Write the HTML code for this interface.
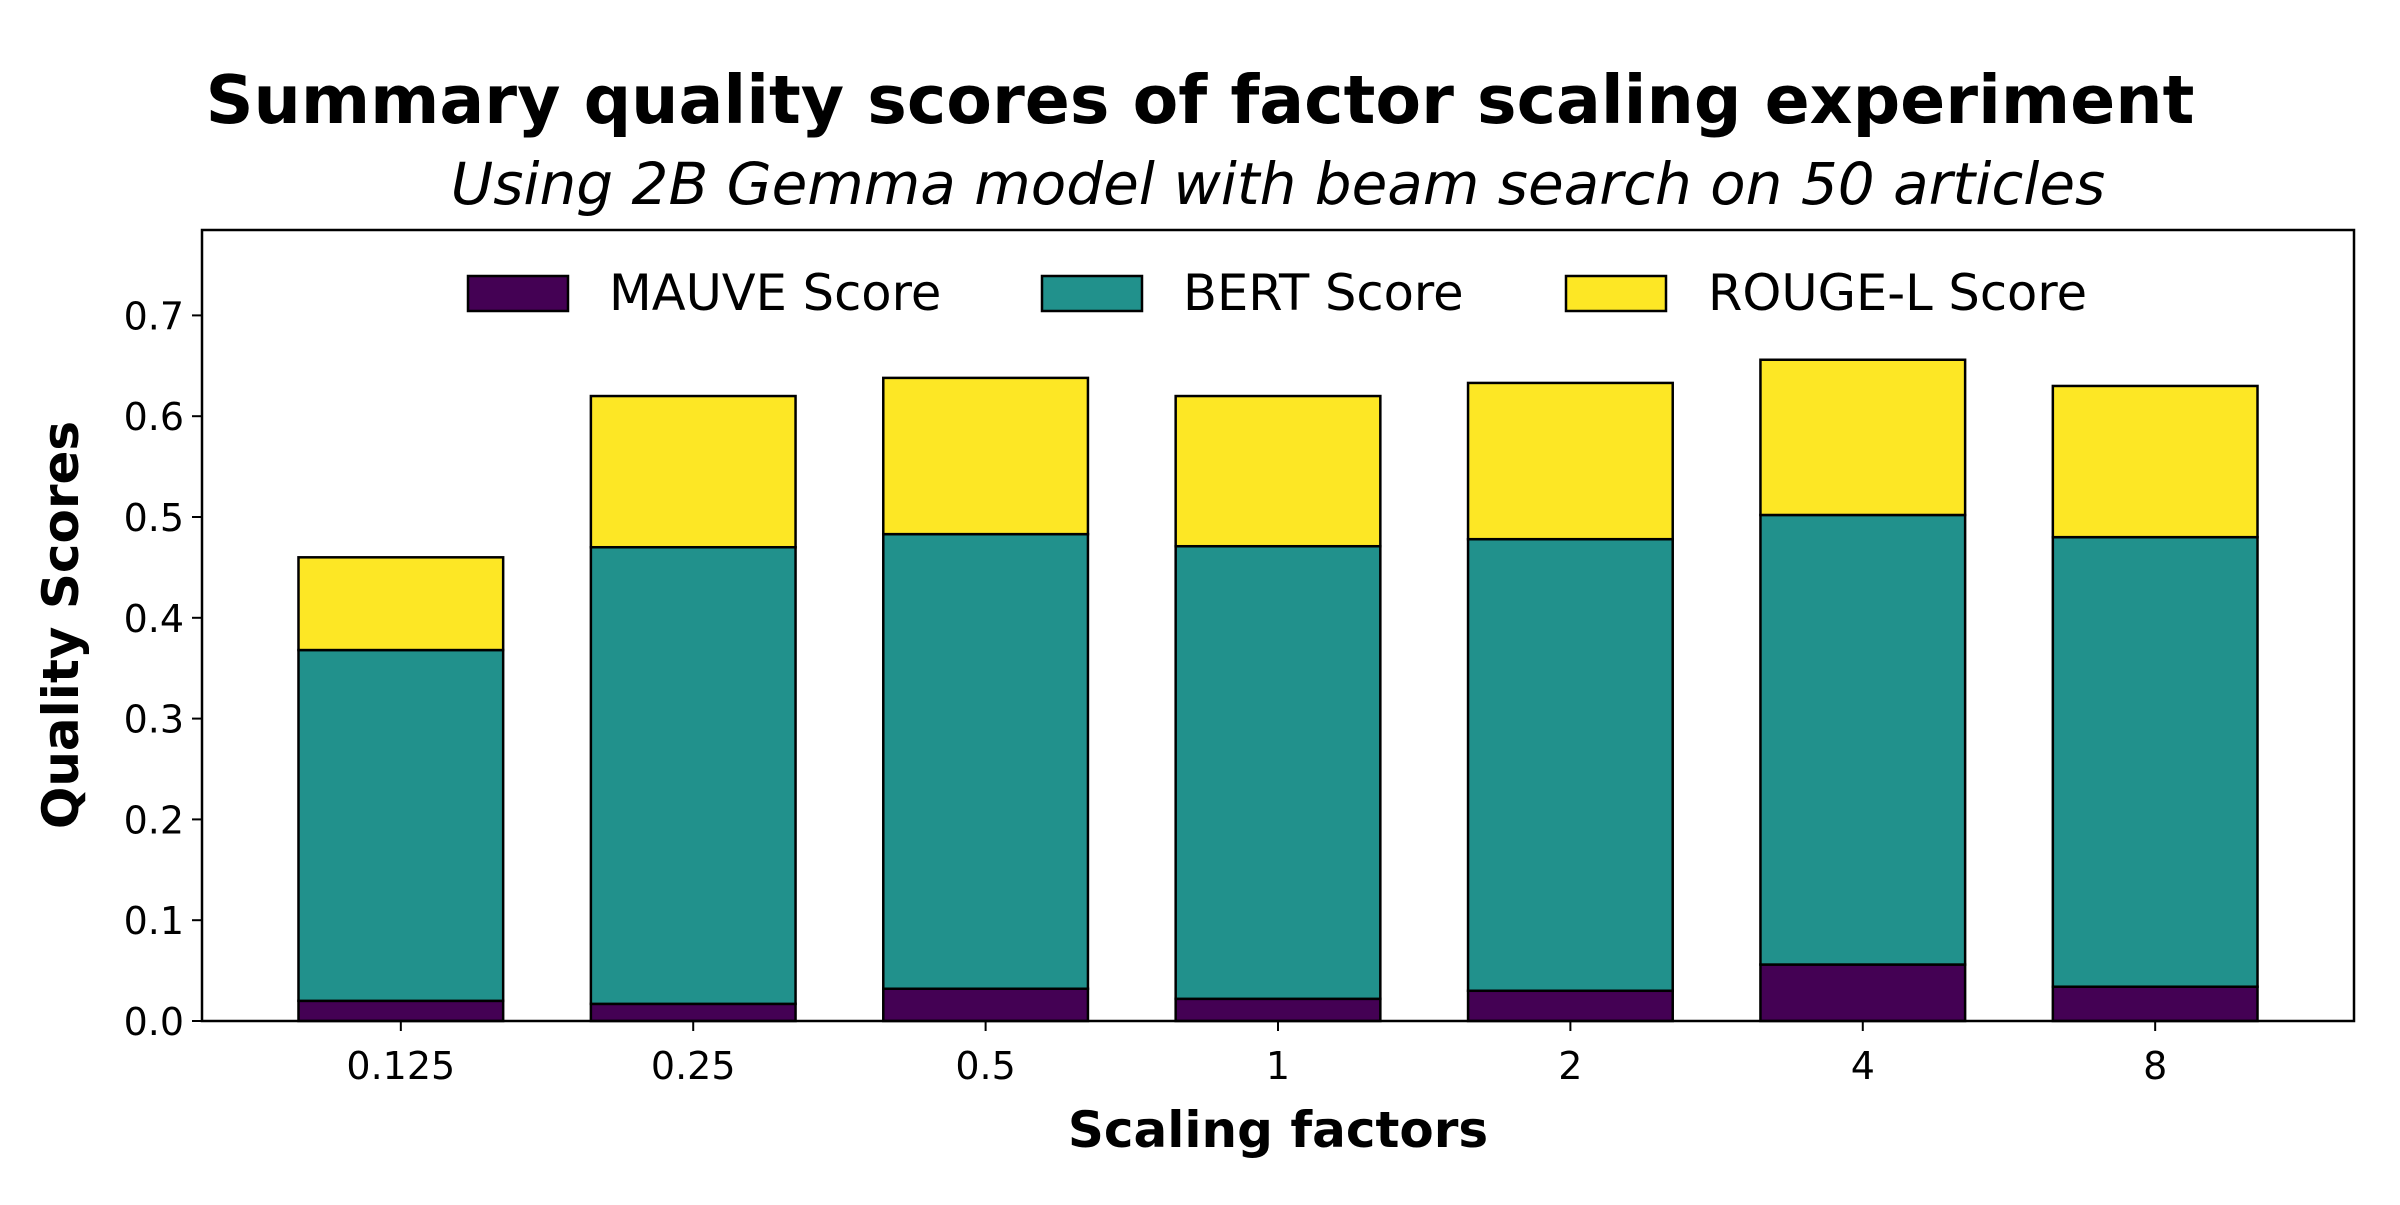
<!DOCTYPE html>
<html><head><meta charset="utf-8"><style>
html,body{margin:0;padding:0;background:#fff;}
svg text{font-family:"DejaVu Sans","Liberation Sans",sans-serif;}
</style></head><body>
<svg id="chart" width="2400" height="1200" viewBox="0 0 2400 1200" xmlns="http://www.w3.org/2000/svg">
<rect width="2400" height="1200" fill="#fff"/>
<text x="1200" y="123" text-anchor="middle" font-size="66.5" font-weight="bold">Summary quality scores of factor scaling experiment</text>
<text x="1278" y="204" text-anchor="middle" font-size="58" font-style="italic">Using 2B Gemma model with beam search on 50 articles</text>
<g id="bars"></g>
<g id="yaxis"></g>
<g id="xaxis"></g>
<rect x="202" y="230" width="2152" height="791" fill="none" stroke="#000" stroke-width="2.5"/>
<g>
<rect x="468" y="276" width="100" height="35" fill="#440154" stroke="#000" stroke-width="2.5"/>
<text x="609" y="310" font-size="49.5">MAUVE Score</text>
<rect x="1042" y="276" width="100" height="35" fill="#21918c" stroke="#000" stroke-width="2.5"/>
<text x="1183" y="310" font-size="49.5">BERT Score</text>
<rect x="1566" y="276" width="100" height="35" fill="#fde725" stroke="#000" stroke-width="2.5"/>
<text x="1708" y="310" font-size="49.5">ROUGE-L Score</text>
</g>
<text x="1278" y="1147" text-anchor="middle" font-size="50" font-weight="bold">Scaling factors</text>
<text transform="translate(78,625) rotate(-90)" text-anchor="middle" font-size="50" font-weight="bold">Quality Scores</text>
</svg>
<script>
const categories = ["0.125","0.25","0.5","1","2","4","8"];
const mauve = [0.020,0.017,0.032,0.022,0.030,0.056,0.034];
const bert = [0.348,0.453,0.451,0.449,0.448,0.446,0.446];
const rouge = [0.092,0.150,0.155,0.149,0.155,0.154,0.150];
const yTicks = [0,0.1,0.2,0.3,0.4,0.5,0.6,0.7];
const yTickLabels = ["0.0","0.1","0.2","0.3","0.4","0.5","0.6","0.7"];

const NS="http://www.w3.org/2000/svg";
const L=202,R=2354,T=230,B=1021;
function y(v){return B - v*1008;}
const step=(R-L)/(categories.length-1+1.36);
function x(i){return L + (0.68+i)*step;}
const bw=0.7*step;
function mk(tag,attrs,parent){const e=document.createElementNS(NS,tag);for(const k in attrs)e.setAttribute(k,attrs[k]);parent.appendChild(e);return e;}
const gb=document.getElementById('bars'),gy=document.getElementById('yaxis'),gx=document.getElementById('xaxis');
const series=[[mauve,'#440154','mauve'],[bert,'#21918c','bert'],[rouge,'#fde725','rouge']];
categories.forEach((c,i)=>{
  let base=0;
  series.forEach(([arr,col,nm])=>{
    const v=arr[i];
    const r=mk('rect',{x:x(i)-bw/2,y:y(base+v),width:bw,height:y(base)-y(base+v),fill:col,stroke:'#000','stroke-width':2.5},gb);
    
    
    base+=v;
  });
  const t=mk('line',{x1:x(i),x2:x(i),y1:B,y2:B+10,stroke:'#000','stroke-width':2},gx);
  
  
  const lb=mk('text',{x:x(i),y:B+58,'text-anchor':'middle','font-size':38},gx);
  lb.textContent=c;
  
  
});
yTicks.forEach((v,k)=>{
  const t=mk('line',{x1:L-10,x2:L,y1:y(v),y2:y(v),stroke:'#000','stroke-width':2},gy);
  
  
  const lb=mk('text',{x:L-18,y:y(v)+14,'text-anchor':'end','font-size':38},gy);
  lb.textContent=yTickLabels[k];
  
  
});
</script>
</body></html>
